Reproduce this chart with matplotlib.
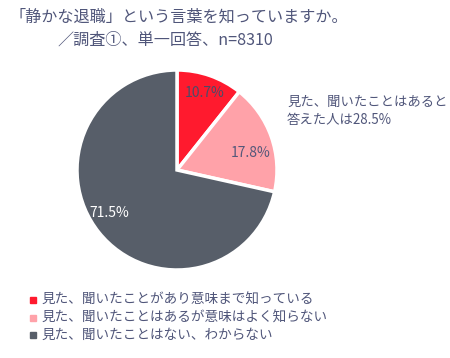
import matplotlib
matplotlib.use("Agg")
import matplotlib.pyplot as plt

plt.rcParams["font.family"] = ["Noto Sans CJK JP", "DejaVu Sans"]

# data
categories = [
    "見た、聞いたことがあり意味まで知っている",
    "見た、聞いたことはあるが意味はよく知らない",
    "見た、聞いたことはない、わからない",
]
shares = [10.7, 17.8, 71.5]
colors = ["#ff1a2e", "#ffa2a9", "#575e69"]
label_colors = ["#4a4c68", "#55587a", "#ffffff"]
title_lines = ["「静かな退職」という言葉を知っていますか。", "／調査①、単一回答、n=8310"]
note_lines = ["見た、聞いたことはあると", "答えた人は28.5%"]

text_color = "#50567a"

W, H = 450, 358
fig = plt.figure(figsize=(W / 100, H / 100), dpi=100)

# pie: centre (177, 170), radius ~100 px
cx, cy, r = 177, 170, 100
ax = fig.add_axes([(cx - r) / W, (H - cy - r) / H, 2 * r / W, 2 * r / H])
wedges, _ = ax.pie(
    shares, colors=colors, startangle=90, counterclock=False,
    wedgeprops=dict(edgecolor="white", linewidth=2.5),
)
ax.set_aspect("equal")
ax.set_xlim(-1, 1)
ax.set_ylim(-1, 1)

# slice labels (pixel positions relative to pie centre)
label_pos = [(205, 93), (251, 153), (109, 213)]
for (px, py), s, c in zip(label_pos, shares, label_colors):
    ax.text((px - cx) / r, (cy - py) / r, "{:.1f}%".format(s), color=c,
            fontsize=10, ha="center", va="center", zorder=5)

# title
fig.text(10 / W, 1 - 17 / H, title_lines[0], fontsize=11.6, color=text_color,
         ha="left", va="center")
fig.text(57 / W, 1 - 40 / H, title_lines[1], fontsize=11.6, color=text_color,
         ha="left", va="center")

# note on the right
for i, line in enumerate(note_lines):
    fig.text(287 / W, 1 - (102 + 18 * i) / H, line, fontsize=9.6,
             color=text_color, ha="left", va="center")

# legend
for i, (cat, c) in enumerate(zip(categories, colors)):
    y = 1 - (300 + 17.5 * i) / H
    fig.patches.append(plt.Rectangle((30 / W, y - 3 / H), 6 / W, 6 / H,
                                     transform=fig.transFigure, color=c))
    fig.text(41 / W, y, cat, fontsize=9.8, color=text_color, ha="left",
             va="center")

fig.savefig("out.png", dpi=100)
